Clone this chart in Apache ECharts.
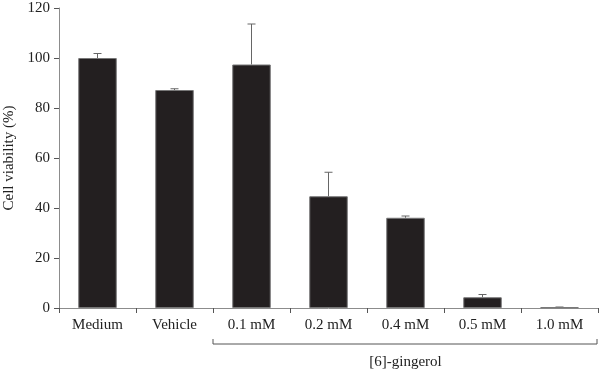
<!DOCTYPE html>
<html>
<head>
<meta charset="utf-8">
<script src="https://cdn.jsdelivr.net/npm/echarts@6/dist/echarts.min.js"></script>
<style>
  html, body { margin: 0; padding: 0; background: #fff; }
  #main { width: 600px; height: 372px; }
</style>
</head>
<body>
<div id="main"></div>
<script>
// 数据
var categories = ['Medium', 'Vehicle', '0.1 mM', '0.2 mM', '0.4 mM', '0.5 mM', '1.0 mM'];
var viability = [100, 87.2, 97.4, 44.7, 36.1, 4.3, 0.3];
var errUpper = [1.8, 0.5, 16.2, 9.6, 0.7, 1.1, 0.1];
var yTicks = [0, 20, 40, 60, 80, 100, 120];

var font = '"Liberation Serif", "DejaVu Serif", serif';
var axisGray = '#8c8c8c';

var chart = echarts.init(document.getElementById('main'));

// 误差线（只画上半部分）
var errData = viability.map(function (v, i) { return [i, v, v + errUpper[i]]; });

var option = {
    animation: false,
    grid: { left: 59, right: 2, top: 8, bottom: 64, containLabel: false, outerBoundsMode: 'none' },
    xAxis: {
        type: 'category',
        data: categories,
        axisLine: { lineStyle: { color: axisGray, width: 1 } },
        axisTick: { show: true, length: 5, lineStyle: { color: '#555' } },
        axisLabel: { color: '#222', fontFamily: font, fontSize: 15, margin: 10 }
    },
    yAxis: {
        type: 'value',
        min: yTicks[0],
        max: yTicks[yTicks.length - 1],
        interval: 20,
        name: 'Cell viability (%)',
        nameLocation: 'middle',
        nameGap: 35,
        nameTextStyle: { color: '#222', fontFamily: font, fontSize: 15 },
        axisLine: { show: true, lineStyle: { color: axisGray, width: 1 } },
        axisTick: { show: true, length: 5, lineStyle: { color: '#555' } },
        axisLabel: { color: '#222', fontFamily: font, fontSize: 15, margin: 9 },
        splitLine: { show: false }
    },
    series: [
        {
            type: 'bar',
            data: viability,
            barWidth: '50%',
            itemStyle: { color: '#231f20', borderColor: '#777', borderWidth: 1 }
        },
        {
            type: 'custom',
            data: errData,
            z: 1,
            renderItem: function (params, api) {
                var low = api.coord([api.value(0), api.value(1)]);
                var high = api.coord([api.value(0), api.value(2)]);
                var cap = 4;
                return {
                    type: 'group',
                    children: [
                        { type: 'line', shape: { x1: high[0], y1: low[1], x2: high[0], y2: high[1] },
                          style: { stroke: '#666', lineWidth: 1 } },
                        { type: 'line', shape: { x1: high[0] - cap, y1: high[1], x2: high[0] + cap, y2: high[1] },
                          style: { stroke: '#666', lineWidth: 1 } }
                    ]
                };
            }
        }
    ]
};

chart.setOption(option);

// [6]-gingerol 括号
var band = chart.getModel().getComponent('xAxis', 0).axis.getBandWidth();
var xStart = chart.convertToPixel({ xAxisIndex: 0 }, 2) - band / 2;
var xEnd = chart.convertToPixel({ xAxisIndex: 0 }, 6) + band / 2;
var yBr = 344;
chart.setOption({
    graphic: [
        { type: 'polyline', shape: { points: [[xStart, yBr - 5], [xStart, yBr], [xEnd - 1, yBr], [xEnd - 1, yBr - 5]] },
          style: { stroke: '#555', lineWidth: 1, fill: null } },
        { type: 'text', x: (xStart + xEnd) / 2, y: 362,
          style: { text: '[6]-gingerol', font: '15px ' + font, fill: '#222', align: 'center', verticalAlign: 'middle' } }
    ]
});
</script>
</body>
</html>
